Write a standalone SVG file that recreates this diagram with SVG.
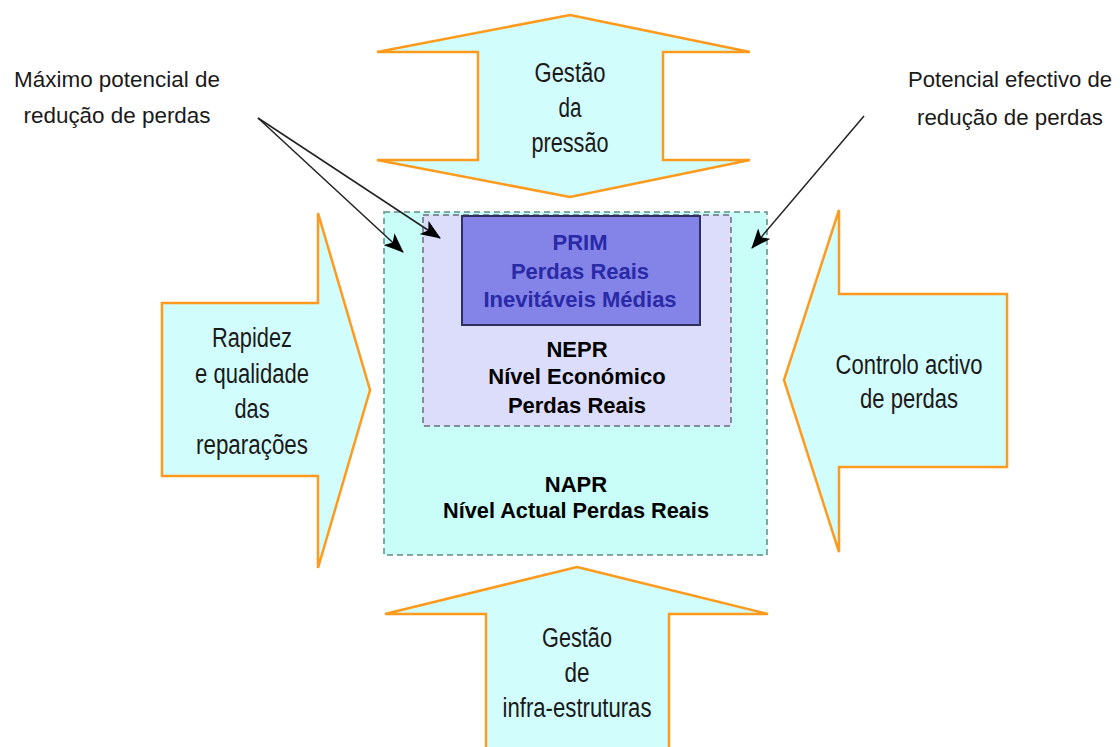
<svg xmlns="http://www.w3.org/2000/svg" width="1120" height="747" viewBox="0 0 1120 747">
<style>
.arrow{fill:#d2fdfd;stroke:#ff9a1c;stroke-width:2.5;stroke-linejoin:miter}
.lbl{font-family:"Liberation Sans Narrow","Liberation Sans",Arial,sans-serif;font-size:27px;fill:#1a1a1a;text-anchor:middle}
.call{font-family:"Liberation Sans",Arial,sans-serif;font-size:22px;fill:#1a1a1a;text-anchor:middle}
.bold{font-family:"Liberation Sans",Arial,sans-serif;font-size:22px;font-weight:bold;fill:#000;text-anchor:middle}
.prim{fill:#2a2aa6}
.lead{stroke:#222;stroke-width:1.5;fill:none}
</style>
<defs>
<marker id="ah" viewBox="0 0 20 16" refX="19" refY="8" markerWidth="20" markerHeight="16" markerUnits="userSpaceOnUse" orient="auto">
<path d="M0,0 L20,8 L0,16 L5,8 z" fill="#000"/>
</marker>
</defs>
<rect width="1120" height="747" fill="#fff"/>

<g id="napr">
<rect x="384" y="212" width="383" height="343" fill="#c8fdf8" stroke="#5e8c86" stroke-width="1.5" stroke-dasharray="6,4"/>
<text class="bold" x="576" y="492">NAPR</text>
<text class="bold" x="576" y="518" textLength="266" lengthAdjust="spacingAndGlyphs">Nível Actual Perdas Reais</text>
</g>
<g id="nepr">
<rect x="423" y="215" width="308" height="211" fill="#dcdcfb" stroke="#6c6c7c" stroke-width="1.5" stroke-dasharray="6,4"/>
<text class="bold" x="577" y="357">NEPR</text>
<text class="bold" x="577" y="384">Nível Económico</text>
<text class="bold" x="577" y="413">Perdas Reais</text>
</g>
<g id="prim">
<rect x="462" y="216" width="238" height="109" fill="#8383e8" stroke="#30305e" stroke-width="2"/>
<text class="bold prim" x="580" y="250">PRIM</text>
<text class="bold prim" x="580" y="279">Perdas Reais</text>
<text class="bold prim" x="580" y="307">Inevitáveis Médias</text>
</g>

<g id="gestao-pressao">
<polygon class="arrow" points="570,15 750,52 663,52 663,160 750,160 570,197 377,160 478,160 478,52 377,52"/>
<text class="lbl" x="570" y="82" textLength="71" lengthAdjust="spacingAndGlyphs">Gestão</text>
<text class="lbl" x="570" y="117" textLength="23" lengthAdjust="spacingAndGlyphs">da</text>
<text class="lbl" x="570" y="152" textLength="77" lengthAdjust="spacingAndGlyphs">pressão</text>
</g>
<g id="rapidez">
<polygon class="arrow" points="162,303 318,303 318,213 370,390 318,568 318,476 162,476"/>
<text class="lbl" x="252" y="347" textLength="80" lengthAdjust="spacingAndGlyphs">Rapidez</text>
<text class="lbl" x="252" y="383" textLength="114" lengthAdjust="spacingAndGlyphs">e qualidade</text>
<text class="lbl" x="252" y="418" textLength="35" lengthAdjust="spacingAndGlyphs">das</text>
<text class="lbl" x="252" y="454" textLength="112" lengthAdjust="spacingAndGlyphs">reparações</text>
</g>
<g id="controlo">
<polygon class="arrow" points="1007,294 839,294 839,210 784,380 839,552 839,467 1007,467"/>
<text class="lbl" x="909" y="374" textLength="147" lengthAdjust="spacingAndGlyphs">Controlo activo</text>
<text class="lbl" x="909" y="408" textLength="98" lengthAdjust="spacingAndGlyphs">de perdas</text>
</g>
<g id="infra">
<polygon class="arrow" points="577,567 768,614 669,614 669,752 486,752 486,614 385,614"/>
<text class="lbl" x="577" y="647" textLength="70" lengthAdjust="spacingAndGlyphs">Gestão</text>
<text class="lbl" x="577" y="682" textLength="25" lengthAdjust="spacingAndGlyphs">de</text>
<text class="lbl" x="577" y="717" textLength="149" lengthAdjust="spacingAndGlyphs">infra-estruturas</text>
</g>

<g id="maximo">
<text class="call" x="117" y="87" textLength="206" lengthAdjust="spacingAndGlyphs">Máximo potencial de</text>
<text class="call" x="117" y="123" textLength="187" lengthAdjust="spacingAndGlyphs">redução de perdas</text>
</g>
<g id="efectivo">
<text class="call" x="1010" y="87" textLength="204" lengthAdjust="spacingAndGlyphs">Potencial efectivo de</text>
<text class="call" x="1010" y="125" textLength="186" lengthAdjust="spacingAndGlyphs">redução de perdas</text>
</g>

<g id="connectors">
<line class="lead" x1="258" y1="118" x2="403" y2="252" marker-end="url(#ah)"/>
<line class="lead" x1="258" y1="118" x2="440" y2="238" marker-end="url(#ah)"/>
<line class="lead" x1="864" y1="116" x2="752" y2="248" marker-end="url(#ah)"/>
</g>
</svg>
